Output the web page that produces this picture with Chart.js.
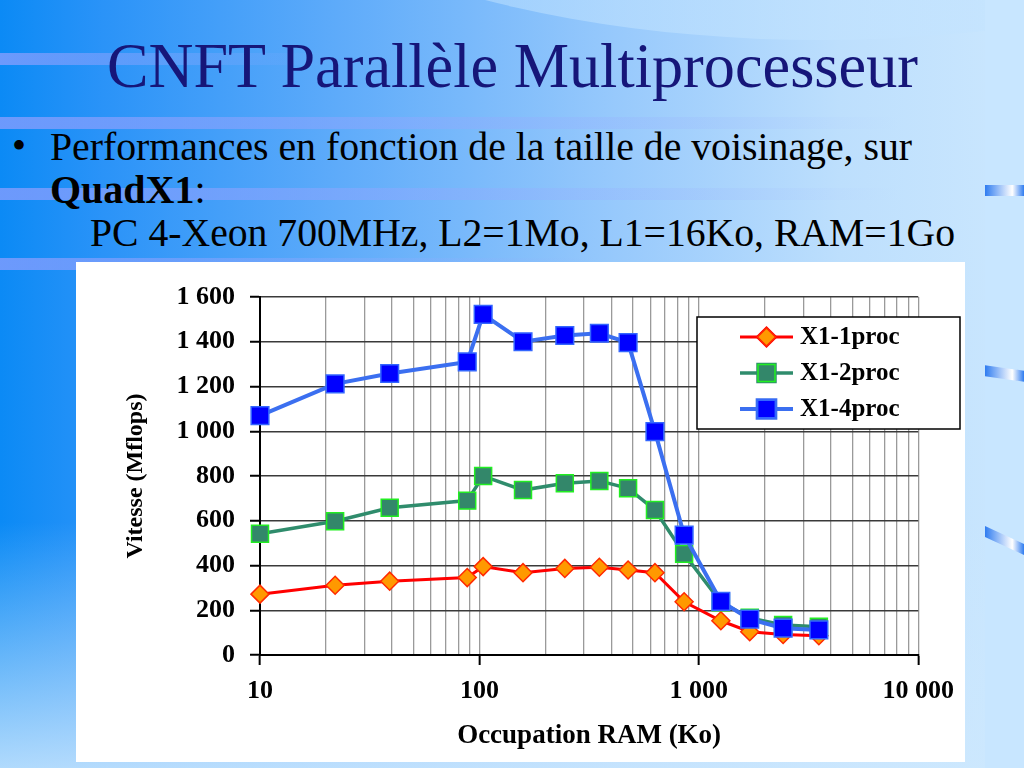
<!DOCTYPE html>
<html>
<head>
<meta charset="utf-8">
<script src="https://cdn.jsdelivr.net/npm/chart.js@4.4.0/dist/chart.umd.min.js"></script>
<style>
  html, body { margin: 0; padding: 0; }
  body {
    width: 1024px; height: 768px; position: relative; overflow: hidden;
    font-family: "Liberation Serif", "Times New Roman", serif;
    background:
      linear-gradient(to bottom, rgba(205,232,254,0) 68%, rgba(205,232,254,0.85) 100%),
      linear-gradient(to right, #0b8af5 0%, #2a93f8 10%, #5eabfa 33%, #97c9fc 60%, #bddffd 82%, #cbe7fe 100%);
  }
  .arc {
    position: absolute; left: 170px; top: -520px; width: 1300px; height: 560px;
    border-radius: 50%;
    background: linear-gradient(to right, rgba(170,215,255,0.5), rgba(205,232,254,0.9));
  }
  .band { position: absolute; left: 0; height: 12px;
    background: linear-gradient(to right, rgba(150,160,255,0.7), rgba(150,170,255,0.3) 60%, rgba(150,170,255,0)); }
  .edge { position: absolute; left: 985px; top: 0; width: 39px; height: 768px; background: #c8e6ff; }
  .orn { position: absolute; left: 985px; width: 39px; height: 11px;
    background: linear-gradient(to right, #2f7cf0, #ffffff 70%, #2f7cf0); }
  .txt { position: absolute; white-space: nowrap; display: inline-block; transform-origin: left top; line-height: 1;
    font-family: "Liberation Serif", "Times New Roman", serif; }
  #title { left: 107px; top: 34px; font-size: 64px; color: #161679; }
  .body { font-size: 40px; color: #000; }
  #panel { position: absolute; left: 76px; top: 262px; width: 889px; height: 500px; background: #fff; }
</style>
</head>
<body>
<div class="arc"></div>
<div class="band" style="top:53px;width:330px"></div>
<div class="band" style="top:117px;width:900px"></div>
<div class="band" style="top:188px;width:900px"></div>
<div class="band" style="top:258px;width:600px"></div>
<div class="edge"></div>
<div class="orn" style="top:185px"></div>
<div class="orn" style="top:368px;transform:skewY(8deg)"></div>
<div class="orn" style="top:535px;transform:skewY(25deg)"></div>

<div id="title" class="txt" data-w="811">CNFT Parallèle Multiprocesseur</div>
<div class="txt body" style="left:12px;top:126px">•</div>
<div class="txt body" style="left:50px;top:127px" data-w="862">Performances en fonction de la taille de voisinage, sur</div>
<div class="txt body" style="left:50px;top:170px"><b>QuadX1</b>:</div>
<div class="txt body" style="left:90px;top:213px" data-w="865">PC 4-Xeon 700MHz, L2=1Mo, L1=16Ko, RAM=1Go</div>

<div id="panel"><canvas id="chart" width="889" height="500"></canvas></div>

<script>
const ramKo = [10, 22, 39, 88, 104, 158, 245, 352, 476, 631, 857, 1260, 1706, 2422, 3524];
// Vitesse (Mflops)
const proc1 = [272, 312, 330, 346, 395, 368, 387, 392, 380, 368, 238, 153, 104, 92, 86];
const proc2 = [542, 598, 658, 690, 800, 737, 768, 778, 745, 648, 452, 236, 166, 134, 126];
const proc4 = [1070, 1212, 1258, 1310, 1522, 1400, 1428, 1438, 1396, 998, 536, 240, 160, 120, 112];
const seriesNames = ['X1-1proc', 'X1-2proc', 'X1-4proc'];
const xDecades = [10, 100, 1000, 10000];
const yMin = 0, yMax = 1600, yStep = 200;

// Ajuste la largeur des textes de la diapo
document.querySelectorAll('[data-w]').forEach((el) => {
  const w = el.getBoundingClientRect().width;
  el.style.transform = 'scaleX(' + (el.dataset.w / w) + ')';
});

const fmt = (v) => String(v).replace(/\B(?=(\d{3})+(?!\d))/g, ' ');
const isDecade = (v) => xDecades.includes(Math.round(v));
const toPoints = (ys) => ramKo.map((x, i) => ({ x: x, y: ys[i] }));
const tickFont = { family: 'Liberation Serif', weight: 'bold', size: 26 };

const styles = [
  { line: '#ff0000', width: 3, style: 'rectRot', r: 9, fill: '#ff9900', border: '#ff2a00' },
  { line: '#2f8c6c', width: 3.5, style: 'rect', r: 12, fill: '#33876a', border: '#22ee22' },
  { line: '#3b6ff0', width: 4, style: 'rect', r: 12.5, fill: '#0000ff', border: '#3366ff' },
];

// Légende encadrée dans la zone du graphique
const boxLegend = {
  id: 'boxLegend',
  afterDraw(chart) {
    const ctx = chart.ctx;
    ctx.save();
    ctx.fillStyle = '#fff';
    ctx.fillRect(621, 55, 263, 112);
    ctx.strokeStyle = '#000';
    ctx.lineWidth = 1.5;
    ctx.strokeRect(621, 55, 263, 112);
    chart.data.datasets.forEach((ds, i) => {
      const s = styles[i];
      const y = 75 + i * 36;
      ctx.strokeStyle = s.line;
      ctx.lineWidth = s.width;
      ctx.beginPath();
      ctx.moveTo(664, y);
      ctx.lineTo(717, y);
      ctx.stroke();
      Chart.helpers.drawPoint(ctx, {
        pointStyle: s.style, radius: s.r, rotation: 0, borderWidth: 1.5,
      }, 690.5, y);
      ctx.fillStyle = s.fill;
      ctx.fill();
      ctx.strokeStyle = s.border;
      ctx.lineWidth = 1.5;
      ctx.stroke();
      ctx.fillStyle = '#000';
      ctx.font = 'bold 25px "Liberation Serif"';
      ctx.textBaseline = 'middle';
      ctx.fillText(ds.label, 724, y + 1);
    });
    ctx.restore();
  },
};

const allSeries = [proc1, proc2, proc4];

try {
  const chart = new Chart(document.getElementById('chart'), {
    type: 'line',
    data: {
      datasets: allSeries.map((ys, i) => ({
        label: seriesNames[i],
        data: toPoints(ys),
        borderColor: styles[i].line,
        borderWidth: styles[i].width,
        pointStyle: styles[i].style,
        pointRadius: styles[i].r,
        pointBackgroundColor: styles[i].fill,
        pointBorderColor: styles[i].border,
        pointBorderWidth: 1.5,
        tension: 0,
        clip: false,
        order: 2 - i,
      })),
    },
    options: {
      responsive: false,
      animation: false,
      layout: { padding: { left: 0, top: 35, right: 46, bottom: 0 } },
      plugins: { legend: { display: false }, tooltip: { enabled: false } },
      scales: {
        x: {
          type: 'logarithmic',
          min: xDecades[0],
          max: xDecades[xDecades.length - 1],
          afterBuildTicks: (scale) => {
            const ticks = [];
            for (let d = 0; d < xDecades.length - 1; d++) {
              for (let k = 1; k < 10; k++) ticks.push({ value: xDecades[d] * k });
            }
            ticks.push({ value: xDecades[xDecades.length - 1] });
            scale.ticks = ticks;
          },
          afterFit: (scale) => { scale.height = 107; },
          ticks: {
            autoSkip: false, maxRotation: 0, color: '#000', font: tickFont, padding: 11,
            callback: (v) => (isDecade(v) ? fmt(Math.round(v)) : ''),
          },
          grid: {
            color: '#9a9a9a', lineWidth: 1.3, tickLength: 10,
            tickColor: (c) => (c.tick && isDecade(c.tick.value) ? '#000' : 'rgba(0,0,0,0)'),
            tickWidth: 2,
          },
          border: { color: '#000', width: 2 },
          title: {
            display: true, text: 'Occupation RAM (Ko)', color: '#000',
            font: { family: 'Liberation Serif', weight: 'bold', size: 27 },
            padding: { top: 0, bottom: 10 },
          },
        },
        y: {
          min: yMin, max: yMax,
          afterFit: (scale) => { scale.width = 184; },
          ticks: { stepSize: yStep, color: '#000', font: tickFont, padding: 15, callback: (v) => fmt(v) },
          grid: { color: '#3a3a3a', lineWidth: 1.5, tickLength: 10, tickColor: '#000', tickWidth: 2 },
          border: { color: '#000', width: 2 },
          title: {
            display: true, text: 'Vitesse (Mflops)', color: '#000',
            font: { family: 'Liberation Serif', weight: 'bold', size: 24 },
            padding: { top: 45, bottom: 0 },
          },
        },
      },
    },
    plugins: [boxLegend],
  });
} catch (error) {
  console.error('Erreur de création du graphique:', error);
}
</script>
</body>
</html>
